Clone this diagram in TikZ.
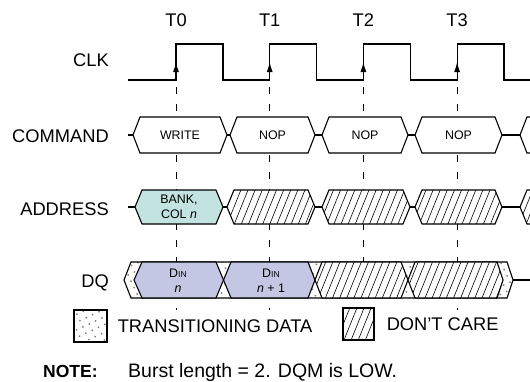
\documentclass[tikz,border=0pt]{standalone}
\usepackage{fontspec}
\setmainfont{Liberation Sans}
\usetikzlibrary{arrows.meta,patterns.meta,positioning}

\definecolor{bankfill}{HTML}{C3E3E0}
\definecolor{dinfill}{HTML}{C3C7E3}
\definecolor{dotgray}{HTML}{7A7A7A}

\tikzset{
	sig/.style={line width=1.1pt, line join=miter},
	edgeline/.style={line width=0.8pt, dash pattern=on 7pt off 10pt},
	dontcare/.style={preaction={fill=white}, pattern={Lines[angle=68,distance=6.6pt,line width=0.6pt]}},
	trdata/.style={preaction={fill=white}, pattern={Dots[distance=7pt,angle=25,radius=1pt]}, pattern color=dotgray},
	biglbl/.style={font=\fontsize{18.3}{21}\selectfont, inner sep=0pt},
	boxlbl/.style={font=\fontsize{12.4}{15}\selectfont, align=center, inner sep=0pt},
}

\begin{document}
\begin{tikzpicture}[x=1pt, y=-1pt]
	\useasboundingbox (0,0) rectangle (530,381);

	% reference edges and their labels
	\foreach \t [count=\k from 0] in {176,269.7,363.4,457.1} {
		\draw[edgeline] (\t,87) -- (\t,310);
		\node[biglbl, anchor=base] (t\k) at (\t,26) {T\k};
	}

	% clock
	\draw[sig]
	(128,80) -| (176,44) -| (223,80) -| (269.7,44) -| (316.5,80)
	-| (363.4,44) -| (410.2,80) -| (457.1,44) -| (504,80) -- (530,80);
	\foreach \t in {176,269.7,363.4,457.1}
		\draw[sig, -{Latex[length=10pt,width=6pt]}] (\t,80) -- (\t,62);

	% signal names
	\node[biglbl, anchor=base east] (clk) at (109,66) {CLK};
	\node[biglbl, anchor=base east] (command) at (109,142) {COMMAND};
	\node[biglbl, anchor=base east] (address) at (109,215) {ADDRESS};
	\node[biglbl, anchor=base east] (dq) at (109,287) {DQ};

	% command bus
	\draw[sig] (128,135) -- (530,135);
	\foreach \l/\r/\txt [count=\i] in {133/227/WRITE, 230/315/NOP, 322/408/NOP, 415/502/NOP} {
		\draw[sig, fill=white] (\l,135) -- (\l+7,117) -- (\r-7,117) -- (\r,135) -- (\r-7,153) -- (\l+7,153) -- cycle;
		\node[boxlbl] (cmd\i) at ({(\l+\r)/2},135) {\txt};
	}
	\draw[sig, fill=white] (530,117) -- (527,117) -- (520,135) -- (527,153) -- (530,153);

	% address bus
	\draw[sig] (128,207) -- (530,207);
	\draw[sig, fill=bankfill] (135,207) -- (142,190) -- (216,190) -- (223,207) -- (216,224) -- (142,224) -- cycle;
	\node[boxlbl] (bankcol) at (179,207) {BANK,\\COL \textit{n}};
	\foreach \l/\r in {227/315, 322/410, 415/502}
		\draw[sig, dontcare] (\l,207) -- (\l+7,190) -- (\r-7,190) -- (\r,207) -- (\r-7,224) -- (\l+7,224) -- cycle;
	\draw[sig, dontcare] (530,190) -- (527,190) -- (520,207) -- (527,224) -- (530,224);

	% data bus
	\draw[sig] (513,280) -- (530,280);
	\draw[sig, trdata] (124,280) -- (131,262) -- (507,262) -- (513,280) -- (507,298) -- (131,298) -- cycle;
	\draw[sig, fill=dinfill] (134,280) -- (142,262) -- (216,262) -- (223.5,280) -- (216,298) -- (142,298) -- cycle;
	\draw[sig, fill=dinfill] (223.5,280) -- (231,262) -- (308,262) -- (315,280) -- (308,298) -- (231,298) -- cycle;
	\draw[sig, dontcare] (315,280) -- (322,262) -- (401,262) -- (408,280) -- (401,298) -- (322,298) -- cycle;
	\draw[sig, dontcare] (408,280) -- (415,262) -- (497,262) -- (503,280) -- (497,298) -- (415,298) -- cycle;
	\node[boxlbl] (din0) at (178,281) {D{\fontsize{8.6}{10}\selectfont IN}\\\textit{n}};
	\node[boxlbl] (din1) at (271,281) {D{\fontsize{8.6}{10}\selectfont IN}\\\textit{n} + 1};

	% legend
	\node[draw, sig, trdata, minimum width=33pt, minimum height=32pt, inner sep=0pt] (trkey) at (90.5,326) {};
	\node[biglbl, right=10pt of trkey] (trtext) {TRANSITIONING DATA};
	\node[draw, sig, dontcare, minimum width=31pt, minimum height=32pt, inner sep=0pt] (dckey) at (358.5,324) {};
	\node[biglbl, right=12pt of dckey] (dctext) {DON’T CARE};

	% note
	\node[font=\fontsize{17.5}{20}\selectfont\bfseries, anchor=base west, inner sep=0pt] (notehd) at (43,377) {NOTE:};
	\node[font=\fontsize{19.5}{22}\selectfont, anchor=base west, inner sep=0pt] (notetxt) at (128,377) {Burst length = 2. DQM is LOW.};
\end{tikzpicture}
\end{document}
